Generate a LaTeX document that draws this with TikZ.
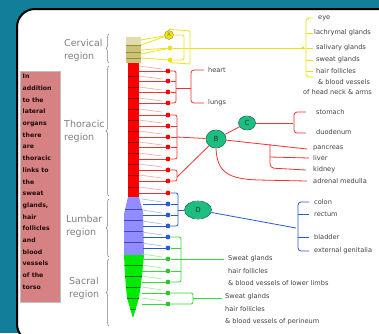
\documentclass[tikz,border=0pt]{standalone}
\usepackage{fontspec}
\setmainfont{DejaVu Sans}
\newfontfamily\dvs{DejaVu Sans}
\usetikzlibrary{decorations.pathreplacing,calc,shapes.geometric}
\definecolor{bgteal}{RGB}{18,126,153}
\definecolor{khaki}{RGB}{205,195,120}
\definecolor{khakid}{RGB}{150,140,70}
\definecolor{cred}{RGB}{250,0,0}
\definecolor{credd}{RGB}{150,0,0}
\definecolor{cblue}{RGB}{145,140,255}
\definecolor{cblued}{RGB}{70,70,170}
\definecolor{cgreen}{RGB}{0,235,0}
\definecolor{cgreend}{RGB}{0,110,0}
\definecolor{lyel}{RGB}{235,225,20}
\definecolor{lred}{RGB}{240,50,50}
\definecolor{lblue}{RGB}{40,90,215}
\definecolor{lgreen}{RGB}{50,220,50}
\definecolor{gangfill}{RGB}{30,190,130}
\definecolor{gangline}{RGB}{0,120,80}
\definecolor{notepink}{RGB}{215,130,130}
\definecolor{notetext}{RGB}{40,20,20}
\newcommand{\labfont}{\dvs\fontsize{6.6}{7.5}\selectfont}
\newcommand{\regfont}{\dvs\fontsize{9.5}{13}\selectfont}
\newcommand{\notefont}{\dvs\bfseries\fontsize{6.2}{11.7}\selectfont}
\tikzset{
  dot/.style={circle,fill=#1,inner sep=0pt,minimum size=4.8pt},
  gang/.style n args={2}{ellipse,draw=gangline,line width=0.6pt,inner sep=0pt,minimum width=#1,minimum height=#2,font=\dvs\fontsize{7}{7}\selectfont,text=gangline!70!black},
  lab/.style={font=\labfont,text=black!75,anchor=west,inner sep=0pt},
  notetxt/.style={anchor=north west,align=left,inner sep=0pt,font=\notefont,text=notetext},
  reg/.style={font=\regfont,text=black!50,align=left,anchor=west,inner sep=0pt},
  regbrace/.style={draw=black!50,line width=0.5pt,decorate,decoration={brace,amplitude=3pt}},
  yl/.style={draw=lyel,line width=0.8pt},
  rl/.style={draw=lred,line width=0.8pt},
  bl/.style={draw=lblue,line width=0.8pt},
  gl/.style={draw=lgreen,line width=0.8pt},
  pale/.style={draw=#1,line width=0.6pt},
  tint/.style={fill=#1,blend mode=multiply},
}
\begin{document}
\begin{tikzpicture}[x=1pt,y=-1pt]
\useasboundingbox (0,0) rectangle (379,333);
\clip (0,0) rectangle (379,333);
\fill[bgteal] (0,0) rectangle (379,333);
\draw[line width=2pt,fill=white,rounded corners=18pt] (17,9) rectangle (398,342);

% note box: text first, then pink tint multiplied over it
\node[notetxt] (note) at (22.5,74)
 {In\\addition\\to the\\lateral\\organs\\there\\are\\thoracic\\links to\\the\\sweat\\glands,\\hair\\follicles\\and\\blood\\vessels\\of the\\torso};
\fill[tint=notepink] (20,71) rectangle (60,302);
\draw[black!25,line width=0.4pt] (20,71) rectangle (60,302);

% region labels and braces
\node[reg] (rcerv) at (64,50) {Cervical\\region};
\node[reg] (rthor) at (64,131) {Thoracic\\region};
\node[reg] (rlumb) at (66,226) {Lumbar\\region};
\node[reg] (rsacr) at (69,288) {Sacral\\region};
\draw[regbrace] (109,63) -- (109,34);
\draw[regbrace] (109,196) -- (109,66);
\draw[regbrace] (109,257) -- (109,199);
\draw[regbrace] (109,326) -- (109,259);

% spine
\fill[khaki] (126,37) rectangle (141,63);
\fill[khaki!60!white] (126,37) rectangle (141,45);
\foreach \y in {45,52,58} \draw[khakid,line width=0.6pt] (126,\y) -- (141,\y);
\fill[cred] (128,63) rectangle (139,197);
\foreach \y in {76,87,98,109,120,131,142,153,164,175,187} \draw[credd,line width=0.6pt] (128,\y) -- (139,\y);
\path[fill=cblue] (128,197) -- (139,197) -- (143,212) -- (144,255) -- (124,255) -- (124,214) -- cycle;
\begin{scope}
\clip (128,197) -- (139,197) -- (143,212) -- (144,255) -- (124,255) -- (124,214) -- cycle;
\foreach \y in {209,220,231,242} \draw[cblued,line width=0.6pt] (120,\y) -- (150,\y);
\end{scope}
\path[fill=cgreen] (124,255) -- (144,255) -- (142,276) -- (139,298) -- (133,318) -- (127,298) -- (125,276) -- cycle;
\begin{scope}
\clip (124,255) -- (144,255) -- (142,276) -- (139,298) -- (133,318) -- (127,298) -- (125,276) -- cycle;
\foreach \y in {265,276,287,298,309} \draw[cgreend,line width=0.7pt] (120,\y) -- (150,\y);
\end{scope}

% cervical yellow
\node[circle,draw=khakid,line width=0.4pt,inner sep=0pt,minimum size=9pt,font=\dvs\fontsize{5}{5}\selectfont,text=khakid] (A) at (169,35) {A};
\fill[tint=lyel] (A.center) circle (4.3pt);
\node[dot=lyel] (y2) at (170,48) {};
\node[dot=lyel] (y3) at (170,60) {};
\draw[yl] (141,40) -- (A);
\draw[yl] (141,45) -- (A);
\draw[yl] (141,50) -- (y2);
\draw[yl] (141,54) -- (y2);
\draw[yl] (141,58) -- (y3);
\coordinate (ybr) at (184,48);
\draw[yl,rounded corners=2pt] (A.east) -- (184,35) -- (184,60) -- (y3.east);
\draw[yl] (y2.east) -- (ybr);
\draw[yl] (A.north) ++(0,-1) -- (190,31) -- (190,64) -- (y3.south);
\coordinate (ybrace) at (305,48);
\draw[yl] (ybr) -- (ybrace);
\draw[yl,rounded corners=3pt] (313,18) -- (306,18) -- (306,77) -- (313,77);
\foreach \y in {33,48,60,71} \draw[yl] (306,\y) -- (313,\y);
\fill[lyel] (303,48) circle (1.6pt);
\node[lab] (eye) at (318,18) {eye};
\node[lab] (lac) at (314,33) {lachrymal glands};
\node[lab] (sal) at (316,48) {salivary glands};
\node[lab] (swt) at (316,60) {sweat glands};
\node[lab] (hair) at (316,71) {hair follicles};
\node[lab] (bv1) at (318,82) {\& blood vessels};
\node[lab] (bv2) at (303,92) {of head neck \& arms};

% thoracic dots
\foreach \i/\y in {1/71,2/81,3/92,4/103,5/115,6/126,7/137,8/147,9/159,10/170,11/181,12/193} {
  \draw[rl] (139,\y) -- (168,\y);
  \node[dot=cred] (t\i) at (168,\y) {};
}
\foreach \y in {66,76,87,98,109,120,131,142,153,164,175,187} \draw[pale=lred!45] (139,\y) -- (162,\y+3);
% lumbar dots
\foreach \i/\y in {1/204,2/215,3/226,4/237,5/248} {
  \draw[bl] (143,\y) -- (168,\y);
  \node[dot=lblue] (l\i) at (168,\y) {};
}
\foreach \y in {199,210,221,232,243} \draw[pale=lblue!45] (142,\y) -- (162,\y+3);
% sacral dots
\foreach \i/\y in {1/259,2/271,3/282,4/293,5/304} {
  \draw[gl] (142,\y) -- (168,\y);
  \node[dot=lgreen!90!black] (s\i) at (168,\y) {};
}
\foreach \y in {254,265,276,287,298} \draw[pale=lgreen!50] (142,\y) -- (162,\y+3);

% heart / lungs
\draw[rl,rounded corners=2pt] (t1.east) -- (176,71) -- (176,103) -- (t4.east);
\draw[rl] (t2.east) -- (176,81);
\draw[rl] (t3.east) -- (176,92);
\draw[rl] (176,88) -- (191,88);
\draw[rl,rounded corners=3pt] (204,70) -- (191,70) -- (191,103) -- (204,103);
\node[lab] (heart) at (208,70) {heart};
\node[lab] (lungs) at (208,103) {lungs};

% ganglia B and C
\node[gang={20pt}{18pt}] (B) at (216,139) {B};
\fill[tint=gangfill] (B.center) ellipse (9.7pt and 8.7pt);
\node[gang={17pt}{14pt}] (C) at (247,123) {C};
\fill[tint=gangfill] (C.center) ellipse (8.2pt and 6.7pt);
\draw[rl,rounded corners=2pt] (t5.east) -- (177,115) -- (177,159) -- (t9.east);
\foreach \k in {6,7,8} \draw[rl] (t\k.east) -- (t\k -| {(177,0)});
\draw[rl] (177,137) -- (B);
\draw[rl,rounded corners=2pt] (t10.east) -- (177,170) -- (177,181) -- (t11.east);
\draw[rl] (177,177) -- (B);
\draw[rl] (B) -- (C);
\draw[rl] (C) -- (293,123);
\draw[rl,rounded corners=3pt] (306,112) -- (294,112) -- (294,133) -- (306,133);
\node[lab] (stom) at (316,112) {stomach};
\node[lab] (duod) at (316,132) {duodenum};
\draw[rl] (B) -- (307,149);
\draw[rl,rounded corners=4pt] (270,144) -- (270,168) -- (306,170);
\draw[rl] (270,157) -- (309,158);
\draw[rl] (B.south) .. controls (217,172) and (228,179) .. (258,180) -- (307,181);
\node[lab] (panc) at (313,148) {pancreas};
\node[lab] (liver) at (313,158) {liver};
\node[lab] (kid) at (313,170) {kidney};
\node[lab] (adr) at (313,181) {adrenal medulla};

% ganglion D (blue)
\node[gang={27pt}{18pt}] (D) at (198,210) {D};
\fill[tint=gangfill] (D.center) ellipse (13.2pt and 8.7pt);
\draw[bl,rounded corners=2pt] (t12.east) -- (178,193) -- (178,226) -- (l3.east);
\draw[bl] (l1.east) -- (178,204);
\draw[bl] (l2.east) -- (178,215);
\draw[bl] (178,210) -- (D);
\draw[bl] (D) -- (296,228);
\draw[bl,rounded corners=3pt] (309,202) -- (298,202) -- (298,251) -- (309,251);
\draw[bl] (298,214) -- (309,214);
\draw[bl] (298,237) -- (309,237);
\node[lab] (colon) at (314,202) {colon};
\node[lab] (rect) at (314,214) {rectum};
\node[lab] (blad) at (314,237) {bladder};
\node[lab] (gen) at (314,251) {external genitalia};

% green brackets
\draw[gl,rounded corners=2pt] (l4.east) -- (181,237) -- (181,282) -- (s3.east);
\foreach \k in {l5,s1,s2} \draw[gl] (\k.east) -- (\k -| {(181,0)});
\draw[gl] (181,259) -- (224,259);
\node[lab] (lw1) at (228,259) {Sweat glands};
\node[lab] (lw2) at (228,271) {hair follicles};
\node[lab] (lw3) at (228,283) {\& blood vessels of lower limbs};
\draw[gl,rounded corners=2pt] (s4.east) -- (193,293) -- (193,304) -- (s5.east);
\draw[gl] (193,298) -- (222,298);
\node[lab] (pr1) at (225,297) {Sweat glands};
\node[lab] (pr2) at (225,309) {hair follicles};
\node[lab] (pr3) at (225,322) {\& blood vessels of perineum};
\end{tikzpicture}
\end{document}
